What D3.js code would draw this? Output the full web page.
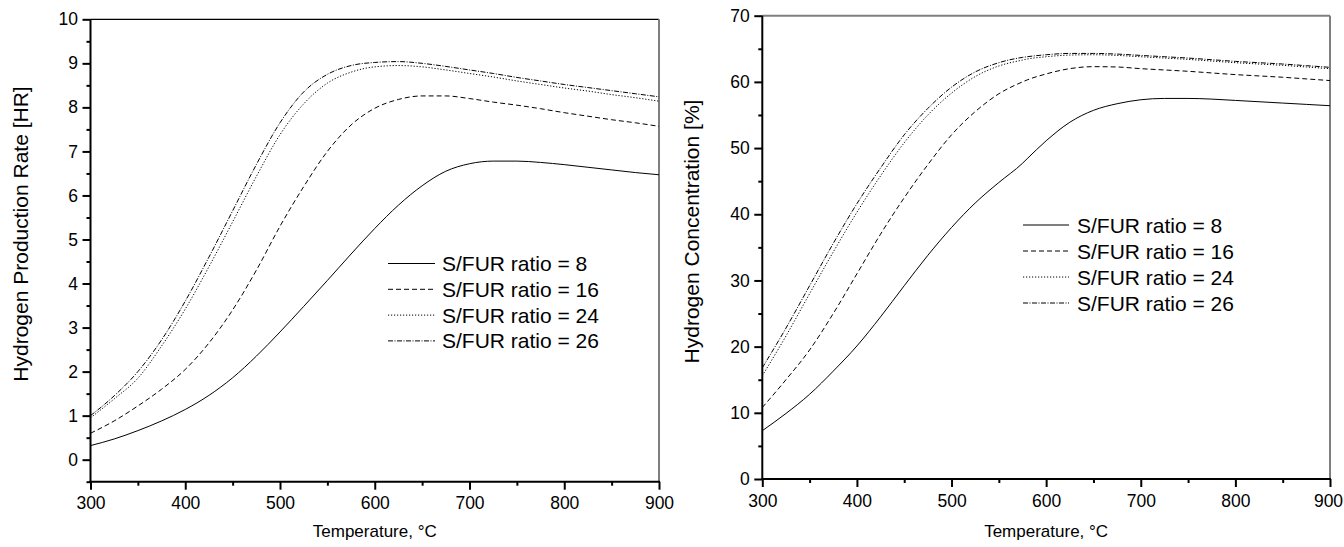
<!DOCTYPE html>
<html>
<head>
<meta charset="utf-8">
<script src="https://cdn.jsdelivr.net/npm/d3@7"></script>
<style>
  html, body { margin: 0; padding: 0; background: #fff; }
  svg { display: block; }
  text { font-family: "Liberation Sans", Arial, sans-serif; fill: #000; }
</style>
</head>
<body>
<svg id="chart" width="1344" height="547"></svg>
<script>
// ---------- DATA ----------
const seriesNames = ["S/FUR ratio = 8", "S/FUR ratio = 16", "S/FUR ratio = 24", "S/FUR ratio = 26"];

const tempsLeft = [300,325,350,375,400,425,450,475,500,525,550,575,600,625,650,675,700,725,750,775,800,825,850,875,900];
const hr8  = [0.32,0.47,0.66,0.88,1.14,1.46,1.86,2.35,2.9,3.48,4.07,4.67,5.25,5.78,6.22,6.55,6.72,6.78,6.78,6.75,6.7,6.64,6.58,6.52,6.47];
const hr16 = [0.6,0.88,1.22,1.6,2.05,2.65,3.4,4.3,5.3,6.2,7.0,7.6,7.98,8.18,8.26,8.26,8.2,8.12,8.05,7.97,7.88,7.8,7.72,7.65,7.57];
const hr24 = [0.95,1.38,1.85,2.58,3.42,4.38,5.4,6.43,7.38,8.08,8.55,8.8,8.92,8.95,8.92,8.85,8.77,8.69,8.6,8.52,8.44,8.37,8.29,8.22,8.14];
const hr26 = [1.0,1.45,2.0,2.72,3.6,4.6,5.65,6.7,7.65,8.35,8.75,8.95,9.02,9.04,9.0,8.93,8.85,8.77,8.68,8.6,8.52,8.45,8.38,8.31,8.24];

const tempsRight = [300,325,350,375,400,425,450,475,500,525,550,575,580,600,625,650,675,700,725,750,775,800,825,850,875,900];
const hc8  = [7.3,9.9,12.8,16.3,20.1,24.5,29.2,33.8,38.0,41.7,44.8,47.7,48.4,51.1,53.9,55.7,56.7,57.3,57.5,57.5,57.4,57.2,57.0,56.8,56.6,56.4];
const hc16 = [10.8,15.0,19.5,25.0,31.0,37.0,42.5,47.5,52.0,55.5,58.2,60.0,60.3,61.2,62.0,62.3,62.25,62.0,61.8,61.6,61.35,61.1,60.9,60.7,60.45,60.2];
const hc24 = [15.6,21.6,28.0,34.3,40.3,45.8,50.8,55.0,58.3,60.8,62.4,63.3,63.45,63.8,64.05,64.1,64.0,63.8,63.6,63.4,63.15,62.9,62.7,62.5,62.25,62.0];
const hc26 = [16.8,22.8,29.2,35.6,41.6,47.0,52.0,56.0,59.2,61.5,62.9,63.7,63.8,64.1,64.3,64.3,64.2,64.0,63.8,63.6,63.35,63.1,62.9,62.7,62.45,62.2];

const xTickValues = [300,400,500,600,700,800,900];
const xMinorValues = [350,450,550,650,750,850];
const yTicksLeft = [0,1,2,3,4,5,6,7,8,9,10];
const yMinorLeft = [-0.5,0.5,1.5,2.5,3.5,4.5,5.5,6.5,7.5,8.5,9.5];
const yTicksRight = [0,10,20,30,40,50,60,70];
const yMinorRight = [5,15,25,35,45,55,65];

const xTitle = "Temperature, °C";
const yTitleLeft = "Hydrogen Production Rate [HR]";
const yTitleRight = "Hydrogen Concentration [%]";

// ---------- STYLES ----------
const dashes = [null, "5,3", "1.2,1.8", "5,1.5,1,1.5"];

const svg = d3.select("#chart");

function drawPanel(p) {
  const x = d3.scaleLinear().domain([300, 900]).range([p.x0, p.x1]);
  const y = d3.scaleLinear().domain(p.yDomain).range([p.y0, p.y1]);
  const g = svg.append("g");

  // frame top/right
  g.append("line").attr("x1", p.x0).attr("x2", p.x1).attr("y1", p.y1).attr("y2", p.y1)
    .attr("stroke", p.topColor).attr("stroke-width", p.topWidth);
  g.append("line").attr("x1", p.x1).attr("x2", p.x1).attr("y1", p.y1).attr("y2", p.y0)
    .attr("stroke", "#7f7f7f").attr("stroke-width", 2);

  // curves
  const line = d3.line().curve(d3.curveMonotoneX)
    .x(d => x(d[0])).y(d => y(d[1]));
  p.series.forEach((vals, i) => {
    const pts = p.temps.map((t, k) => [t, vals[k]]);
    g.append("path").datum(pts).attr("d", line)
      .attr("fill", "none").attr("stroke", "#000").attr("stroke-width", 1)
      .attr("stroke-dasharray", dashes[i]);
  });

  // axes
  const fs = "17.5px";
  const xAx = g.append("g").attr("transform", `translate(0,${p.y0})`)
    .call(d3.axisBottom(x).tickValues(xTickValues).tickSize(8).tickPadding(p.xPad).tickFormat(d3.format("d")));
  const xAxMinor = g.append("g").attr("transform", `translate(0,${p.y0})`)
    .call(d3.axisBottom(x).tickValues(xMinorValues).tickSize(4).tickFormat(""));
  const yAx = g.append("g").attr("transform", `translate(${p.x0},0)`)
    .call(d3.axisLeft(y).tickValues(p.yTicks).tickSize(8).tickPadding(4.5).tickFormat(d3.format("d")));
  const yAxMinor = g.append("g").attr("transform", `translate(${p.x0},0)`)
    .call(d3.axisLeft(y).tickValues(p.yMinor).tickSize(4).tickFormat(""));
  [xAx, xAxMinor, yAx, yAxMinor].forEach(a => {
    a.select(".domain").remove();
    a.selectAll(".tick line").attr("stroke", "#000").attr("stroke-width", 2);
    a.selectAll("text").style("font-size", fs).style("font-family", '"Liberation Sans", Arial, sans-serif').attr("fill", "#000");
  });
  if (p.lastLabelShift) {
    xAx.selectAll(".tick text").filter(d => d === 900).attr("dx", p.lastLabelShift);
  }
  // axis lines
  g.append("line").attr("x1", p.x0).attr("x2", p.x0).attr("y1", p.y1).attr("y2", p.y0 + 1)
    .attr("stroke", "#000").attr("stroke-width", 2);
  g.append("line").attr("x1", p.x0 - 1).attr("x2", p.x1 + 1).attr("y1", p.y0).attr("y2", p.y0)
    .attr("stroke", "#000").attr("stroke-width", 2);

  // titles
  g.append("text").attr("x", (p.x0 + p.x1) / 2).attr("y", p.xTitleY)
    .attr("text-anchor", "middle").style("font-size", "17px").text(xTitle);
  g.append("text").attr("transform", `translate(${p.yTitleX},${p.yTitleCY}) rotate(-90)`)
    .attr("text-anchor", "middle").style("font-size", "21px").text(p.yTitle);

  // legend
  seriesNames.forEach((name, i) => {
    const ly = p.legY + i * p.legStep;
    g.append("line").attr("x1", p.legX0).attr("x2", p.legX1).attr("y1", ly).attr("y2", ly)
      .attr("stroke", "#000").attr("stroke-width", 1).attr("stroke-dasharray", dashes[i]);
    g.append("text").attr("x", p.legText).attr("y", ly + 7.5)
      .style("font-size", "21px").text(name);
  });
}

drawPanel({
  x0: 90.5, x1: 659, y0: 481.7, y1: 19.3, yDomain: [-0.5, 10],
  yTicks: yTicksLeft, yMinor: yMinorLeft, xPad: 7,
  temps: tempsLeft, series: [hr8, hr16, hr24, hr26],
  topColor: "#000", topWidth: 1.2,
  xTitleY: 537, yTitle: yTitleLeft, yTitleX: 28, yTitleCY: 234,
  legX0: 388, legX1: 435, legText: 442, legY: 263.5, legStep: 25.8
});

drawPanel({
  x0: 762.3, x1: 1330, y0: 479, y1: 15.7, yDomain: [0, 70],
  yTicks: yTicksRight, yMinor: yMinorRight, xPad: 8, lastLabelShift: -2,
  temps: tempsRight, series: [hc8, hc16, hc24, hc26],
  topColor: "#7f7f7f", topWidth: 2,
  xTitleY: 537, yTitle: yTitleRight, yTitleX: 699, yTitleCY: 231.5,
  legX0: 1023, legX1: 1069, legText: 1077, legY: 225, legStep: 26
});
</script>
</body>
</html>
